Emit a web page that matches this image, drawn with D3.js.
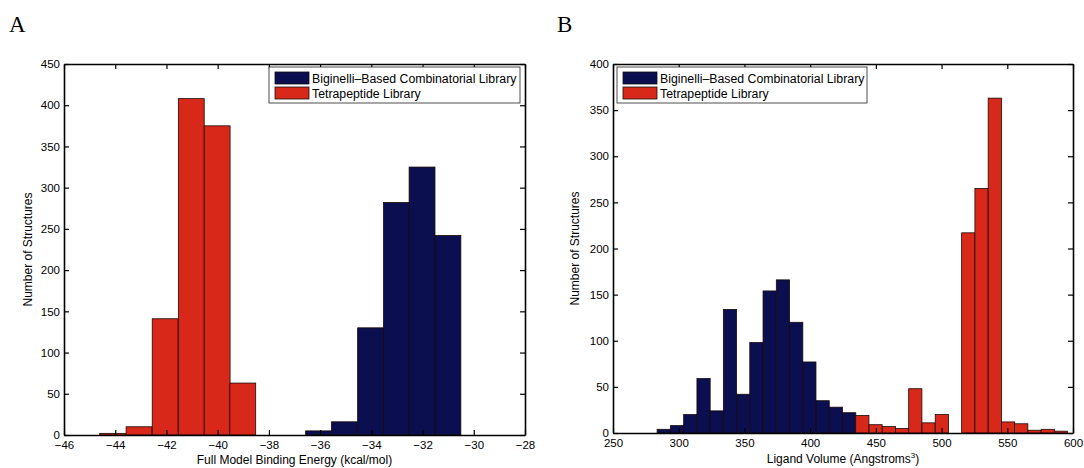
<!DOCTYPE html>
<html lang="en">
<head>
<meta charset="UTF-8">
<title>Binding energy and ligand volume histograms</title>
<style>
  body { margin: 0; background: #fff; }
  svg text { font-family: "Liberation Sans", Arial, sans-serif; fill: #000; }
  .axis path, .axis line { stroke: #000; }
  .axis path { stroke-width: 1.6; }
  .axis line { stroke-width: 1.2; }
  .axis text { font-size: 11.5px; }
  .label { font-size: 12px; }
  .panel-tag { font-family: "Liberation Serif", "Times New Roman", serif; font-size: 23px; }
  .legend text { font-size: 12.3px; }
  rect.bar { stroke: #1a0a08; stroke-width: 0.8; }
</style>
</head>
<body>
<div id="chart"></div>
<script src="https://cdnjs.cloudflare.com/ajax/libs/d3/7.8.5/d3.min.js"></script>
<script>
// panel A: full model binding energy (kcal/mol)
var energyTicks = [-46, -44, -42, -40, -38, -36, -34, -32, -30, -28];
var energyRedCenters = [-44.1, -43.07, -42.05, -41.03, -40.02, -39.02];
var energyRedCounts = [2, 10, 141, 408, 375, 63];
var energyBlueCenters = [-36.06, -35.05, -34.03, -33.02, -32.02, -31.01];
var energyBlueCounts = [5, 16, 130, 282, 325, 242];
var energyCountTicks = [0, 50, 100, 150, 200, 250, 300, 350, 400, 450];

// panel B: ligand volume (Angstroms^3)
var volumeTicks = [250, 300, 350, 400, 450, 500, 550, 600];
var volumeBlueCenters = [288.6, 298.7, 308.8, 318.9, 328.9, 339.0, 349.1, 359.1, 369.2, 379.3, 389.4, 399.4, 409.5, 419.6, 429.7];
var volumeBlueCounts = [4, 8, 20, 59, 24, 134, 42, 98, 154, 166, 120, 77, 35, 28, 22];
var volumeRedCenters = [439.7, 449.8, 459.9, 470.0, 480.0, 490.1, 500.2, 510.3, 520.3, 530.4, 540.5, 550.6, 560.6, 570.7, 580.8, 590.8];
var volumeRedCounts = [19, 9, 7, 5, 48, 11, 20, 0, 217, 265, 363, 12, 10, 3, 4, 2];
var volumeCountTicks = [0, 50, 100, 150, 200, 250, 300, 350, 400];

var seriesNames = ["Biginelli\u2013Based Combinatorial Library", "Tetrapeptide Library"];
var blue = "#0b0e4f", red = "#d8281a";

var svg = d3.select("#chart").append("svg")
  .attr("width", 1084)
  .attr("height", 468);

function panel(opt) {
  var x = d3.scaleLinear().domain(opt.xDomain).range([opt.left, opt.right]);
  var y = d3.scaleLinear().domain(opt.yDomain).range([opt.bottom, opt.top]);
  var g = svg.append("g");

  function bars(centers, counts, color) {
    var rows = centers.map(function(c, i) { return {c: c, n: counts[i]}; });
    g.selectAll(null).data(rows).enter().append("rect")
      .attr("class", "bar")
      .attr("x", function(d) { return x(d.c - opt.binWidth / 2); })
      .attr("width", function(d) { return x(d.c + opt.binWidth / 2) - x(d.c - opt.binWidth / 2); })
      .attr("y", function(d) { return y(d.n); })
      .attr("height", function(d) { return opt.bottom - y(d.n); })
      .attr("fill", color);
  }
  bars(opt.blueCenters, opt.blueCounts, blue);
  bars(opt.redCenters, opt.redCounts, red);

  // box with inward ticks on all four sides
  g.append("g").attr("class", "axis")
    .attr("transform", "translate(0," + opt.bottom + ")")
    .call(d3.axisBottom(x).tickValues(opt.xTicks).tickSizeInner(-5).tickSizeOuter(0).tickPadding(opt.xPad));
  g.append("g").attr("class", "axis")
    .attr("transform", "translate(0," + opt.top + ")")
    .call(d3.axisTop(x).tickValues(opt.xTicks).tickSizeInner(-5).tickSizeOuter(0).tickFormat(""));
  g.append("g").attr("class", "axis")
    .attr("transform", "translate(" + opt.left + ",0)")
    .call(d3.axisLeft(y).tickValues(opt.yTicks).tickSizeInner(-5).tickSizeOuter(0).tickPadding(4));
  g.append("g").attr("class", "axis")
    .attr("transform", "translate(" + opt.right + ",0)")
    .call(d3.axisRight(y).tickValues(opt.yTicks).tickSizeInner(-5).tickSizeOuter(0).tickFormat(""));

  // axis titles
  var xl = g.append("text").attr("class", "label")
    .attr("x", (opt.left + opt.right) / 2)
    .attr("y", opt.xLabelY)
    .attr("text-anchor", "middle")
    .text(opt.xLabel);
  if (opt.xLabelSup) {
    xl.append("tspan").attr("dy", -5).attr("font-size", "8px").text(opt.xLabelSup);
    xl.append("tspan").attr("dy", 5).text(")");
  }
  g.append("text").attr("class", "label")
    .attr("transform", "translate(" + opt.yLabelX + "," + (opt.top + opt.bottom) / 2 + ") rotate(-90)")
    .attr("text-anchor", "middle")
    .text("Number of Structures");

  // panel letter
  g.append("text").attr("class", "panel-tag")
    .attr("x", opt.tagX).attr("y", 32)
    .text(opt.tag);

  // legend
  var lg = g.append("g").attr("class", "legend");
  lg.append("rect")
    .attr("x", opt.legend[0]).attr("y", opt.legend[1])
    .attr("width", opt.legend[2]).attr("height", 36)
    .attr("fill", "#fff").attr("stroke", "#222").attr("stroke-width", 0.8);
  [blue, red].forEach(function(col, i) {
    lg.append("rect")
      .attr("x", opt.legend[0] + 6).attr("y", opt.legend[1] + 5 + i * 15)
      .attr("width", 34).attr("height", 12)
      .attr("fill", col).attr("stroke", "#111").attr("stroke-width", 0.8);
    lg.append("text")
      .attr("x", opt.legend[0] + 43).attr("y", opt.legend[1] + 15.5 + i * 15)
      .text(seriesNames[i]);
  });
}

panel({
  tag: "A", tagX: 9,
  left: 64, right: 525, top: 64, bottom: 435,
  xDomain: [-46, -28], yDomain: [0, 450],
  xTicks: energyTicks, yTicks: energyCountTicks, xPad: 6,
  binWidth: 1.01,
  blueCenters: energyBlueCenters, blueCounts: energyBlueCounts,
  redCenters: energyRedCenters, redCounts: energyRedCounts,
  xLabel: "Full Model Binding Energy (kcal/mol)", xLabelY: 464,
  yLabelX: 32,
  legend: [269, 67, 251]
});

panel({
  tag: "B", tagX: 557,
  left: 613, right: 1073, top: 64, bottom: 433,
  xDomain: [250, 600], yDomain: [0, 400],
  xTicks: volumeTicks, yTicks: volumeCountTicks, xPad: 6,
  binWidth: 10.07,
  blueCenters: volumeBlueCenters, blueCounts: volumeBlueCounts,
  redCenters: volumeRedCenters, redCounts: volumeRedCounts,
  xLabel: "Ligand Volume (Angstroms", xLabelSup: "3", xLabelY: 463,
  yLabelX: 579,
  legend: [617, 67, 250]
});
</script>
</body>
</html>
